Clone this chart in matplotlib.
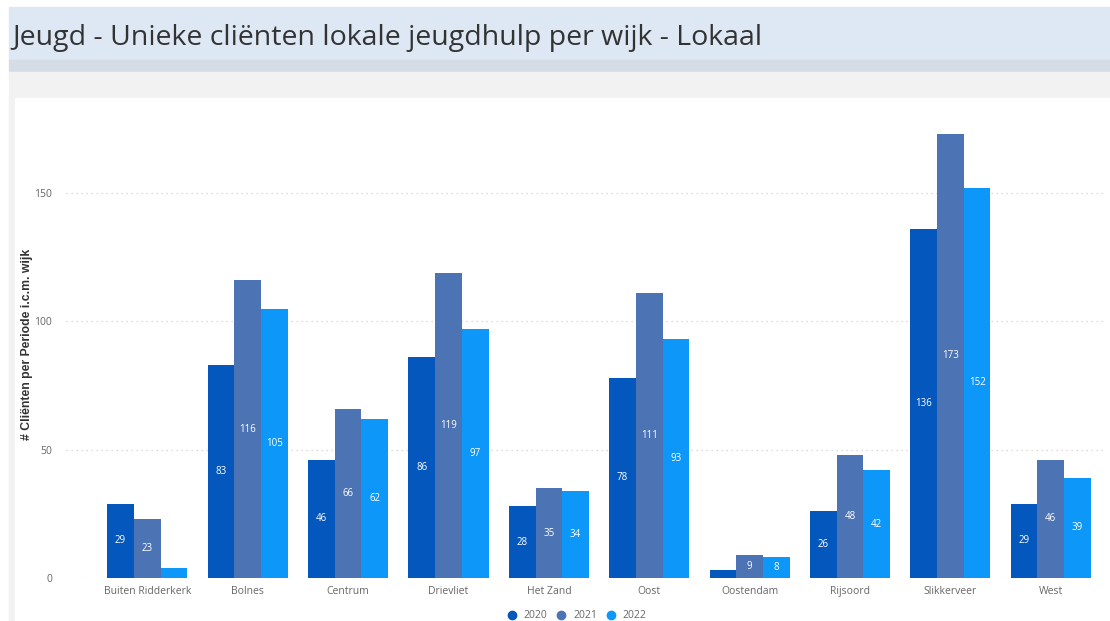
import numpy as np
import matplotlib.pyplot as plt
from matplotlib.patches import Rectangle
from matplotlib.lines import Line2D

# data
wijken = ['Buiten Ridderkerk', 'Bolnes', 'Centrum', 'Drievliet', 'Het Zand',
          'Oost', 'Oostendam', 'Rijsoord', 'Slikkerveer', 'West']
jaar_2020 = [29, 83, 46, 86, 28, 78, 3, 26, 136, 29]
jaar_2021 = [23, 116, 66, 119, 35, 111, 9, 48, 173, 46]
jaar_2022 = [4, 105, 62, 97, 34, 93, 8, 42, 152, 39]
jaren = ['2020', '2021', '2022']
kleuren = ['#0457bd', '#4c73b4', '#0c97f9']
# kleine waarden krijgen geen label
label_min = 5

plt.rcParams['font.family'] = ['Open Sans', 'DejaVu Sans']

fig = plt.figure(figsize=(11.1, 6.21), dpi=100)
W, H = 1110, 621

def px_rect(x0, y0, x1, y1, color):
    # rechthoek in pixelcoordinaten (y vanaf boven)
    fig.patches.append(Rectangle((x0 / W, 1 - y1 / H), (x1 - x0) / W, (y1 - y0) / H,
                                 transform=fig.transFigure, color=color, zorder=-10))

# achtergrond in Power BI-stijl
px_rect(0, 0, W, H, '#ffffff')
px_rect(9, 7, W, 60, '#dde8f4')
px_rect(9, 60, W, 72, '#d4dce6')
px_rect(9, 72, W, H, '#f2f2f2')
px_rect(15, 98, W, H, '#ffffff')

fig.text(12 / W, 1 - 38 / H, 'Jeugd - Unieke cliënten lokale jeugdhulp per wijk - Lokaal',
         fontsize=20.5, color='#333333', va='center', ha='left')

# assen: y=0 op pixel 578, y=150 op pixel 193
ax_left, ax_right = 66, 1105
ymax = 178
px_per_unit = (578 - 193) / 150
ax_top = 578 - ymax * px_per_unit
ax = fig.add_axes([ax_left / W, 1 - 578 / H, (ax_right - ax_left) / W, (578 - ax_top) / H])
ax.set_facecolor('none')

x = np.arange(len(wijken))
bw = 0.266
for i, (vals, kleur) in enumerate(zip([jaar_2020, jaar_2021, jaar_2022], kleuren)):
    pos = x + (i - 1) * bw
    ax.bar(pos, vals, width=bw, color=kleur, zorder=3)
    for p, v in zip(pos, vals):
        if v >= label_min:
            ax.text(p, v / 2, str(v), ha='center', va='center', color='white',
                    fontsize=7, zorder=4)

ax.set_xlim(-0.81, 9.54)
ax.set_ylim(0, ymax)
ax.set_yticks([0, 50, 100, 150])
ax.yaxis.grid(True, linestyle=(0, (1, 3)), color='#d0d0d0', linewidth=0.9, zorder=0)
ax.set_axisbelow(True)
ax.set_xticks(x)
ax.set_xticklabels(wijken)
ax.tick_params(axis='both', length=0, labelsize=7.5, labelcolor='#666666')
ax.tick_params(axis='x', pad=6)
ax.tick_params(axis='y', pad=10)
for s in ax.spines.values():
    s.set_visible(False)

fig.text(27 / W, 1 - 344 / H, '# Cliënten per Periode i.c.m. wijk', rotation=90,
         fontsize=8.8, fontweight='bold', color='#333333', va='center', ha='center',
         family=['Liberation Sans', 'DejaVu Sans'])

handles = [Line2D([], [], marker='o', linestyle='', color=k, markersize=6) for k in kleuren]
fig.legend(handles, jaren, loc='center', bbox_to_anchor=(574 / W, 1 - 616 / H),
           ncol=3, frameon=False, fontsize=7.5, handletextpad=0.1, columnspacing=0.4,
           labelcolor='#666666', borderpad=0)

fig.savefig('out.png', dpi=100)
